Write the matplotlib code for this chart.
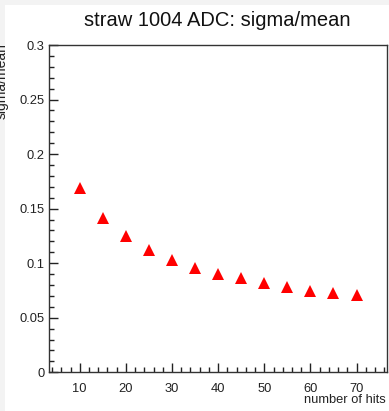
import matplotlib
matplotlib.use("Agg")
import matplotlib.pyplot as plt
from matplotlib.patches import Rectangle
from matplotlib.ticker import MultipleLocator

# data
n_hits = [10, 15, 20, 25, 30, 35, 40, 45, 50, 55, 60, 65, 70]
sigma_over_mean = [0.169, 0.1416, 0.1245, 0.1121, 0.1027, 0.0958, 0.0904,
                   0.0860, 0.0818, 0.0784, 0.0742, 0.0724, 0.0707]
x_ticks = [10, 20, 30, 40, 50, 60, 70]
y_ticks = [0, 0.05, 0.1, 0.15, 0.2, 0.25, 0.3]
y_tick_labels = ["0", "0.05", "0.1", "0.15", "0.2", "0.25", "0.3"]

plt.rcParams["font.family"] = ["Liberation Sans", "DejaVu Sans"]

W, H = 389, 411
fig = plt.figure(figsize=(W / 100, H / 100), dpi=100)
fig.set_facecolor("#f3f3f3")
# white canvas, the thin grey strip stays on the top and left
fig.patches.append(Rectangle((5 / W, 0), 1, 1 - 5 / H, transform=fig.transFigure,
                             facecolor="white", edgecolor="none", zorder=-10))

# frame position in pixels
left, right, top, bottom = 49.3, 387, 45, 372.3
ax = fig.add_axes([left / W, (H - bottom) / H, (right - left) / W, (bottom - top) / H])
ax.set_facecolor("white")

ax.plot(n_hits, sigma_over_mean, linestyle="none", marker="^", markersize=8,
        color="#ff0000", markeredgewidth=0)

ax.set_xlim(3.4, 76.6)
ax.set_ylim(0, 0.3)
ax.set_xticks(x_ticks)
ax.xaxis.set_minor_locator(MultipleLocator(2))
ax.set_yticks(y_ticks)
ax.set_yticklabels(y_tick_labels)
ax.yaxis.set_minor_locator(MultipleLocator(0.01))

ax.tick_params(which="both", direction="in", top=False, right=False,
               labelsize=9.3, colors="#222222", width=1)
ax.tick_params(which="major", length=6.5)
ax.tick_params(which="minor", length=3.3)
ax.tick_params(axis="x", pad=8)
ax.tick_params(axis="y", pad=3.5)
for spine in ax.spines.values():
    spine.set_color("#333333")
    spine.set_linewidth(1.0)

# titles, placed like ROOT does
fig.text(217 / W, 1 - 26 / H, "straw 1004 ADC: sigma/mean", ha="center", va="baseline",
         fontsize=14.5, color="#111111")
fig.text(386 / W, 1 - 403 / H, "number of hits", ha="right", va="baseline",
         fontsize=9.3, color="#222222")
fig.text(5.5 / W, 1 - 43 / H, "sigma/mean", rotation=90, rotation_mode="anchor",
         ha="right", va="baseline", fontsize=10, color="#222222")

fig.savefig("out.png", dpi=100)
plt.close()
